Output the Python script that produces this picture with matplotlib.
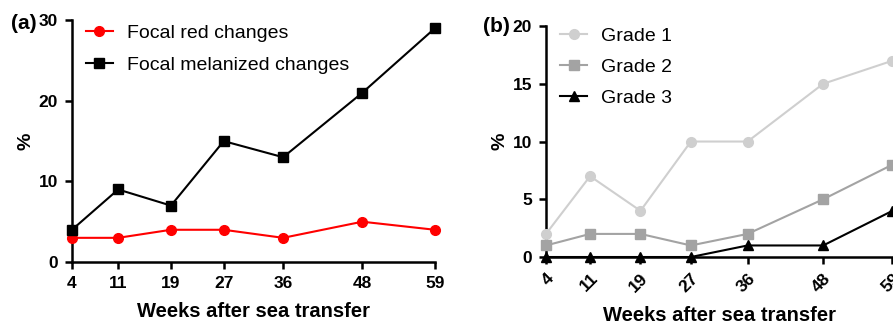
import matplotlib.pyplot as plt

plt.rcParams["font.family"] = ["Liberation Sans", "DejaVu Sans"]

weeks = [4, 11, 19, 27, 36, 48, 59]
red_changes = [3, 3, 4, 4, 3, 5, 4]
melanized_changes = [4, 9, 7, 15, 13, 21, 29]
grade1 = [2, 7, 4, 10, 10, 15, 17]
grade2 = [1, 2, 2, 1, 2, 5, 8]
grade3 = [0, 0, 0, 0, 1, 1, 4]


def style_axes(ax):
    for side in ("top", "right"):
        ax.spines[side].set_visible(False)
    for side in ("left", "bottom"):
        ax.spines[side].set_linewidth(1.8)
    ax.tick_params(width=1.8, length=5, direction="out", labelsize=12.5, pad=5)
    for lbl in ax.get_xticklabels() + ax.get_yticklabels():
        lbl.set_fontweight("bold")
    ax.set_xlim(4, 59)
    ax.set_xticks(weeks)
    ax.set_xlabel("Weeks after sea transfer", fontsize=14.5, fontweight="bold")
    ax.set_ylabel("%", fontsize=14, fontweight="bold")


fig = plt.figure(figsize=(8.93, 3.29), dpi=100)

ax1 = fig.add_axes([0.0806, 0.2036, 0.4064, 0.735])
ax1.plot(weeks, red_changes, color="#ff0000", marker="o", markersize=7,
         linewidth=1.5, label="Focal red changes", clip_on=False, zorder=3)
ax1.plot(weeks, melanized_changes, color="black", marker="s", markersize=7,
         linewidth=1.5, label="Focal melanized changes", clip_on=False, zorder=3)
ax1.set_ylim(0, 30)
ax1.set_yticks([0, 10, 20, 30])
style_axes(ax1)
ax1.xaxis.labelpad = 8
ax1.yaxis.labelpad = 3
ax1.legend(loc="upper left", bbox_to_anchor=(-0.01, 1.055), frameon=False,
           fontsize=14, handlelength=1.4, handletextpad=0.7, labelspacing=0.72)
fig.text(0.012, 0.93, "(a)", fontsize=15, fontweight="bold", va="center")

ax2 = fig.add_axes([0.6114, 0.2188, 0.388, 0.702])
ax2.plot(weeks, grade1, color="#cfcfcf", marker="o", markersize=7,
         linewidth=1.5, label="Grade 1", clip_on=False, zorder=3)
ax2.plot(weeks, grade2, color="#a3a3a3", marker="s", markersize=7,
         linewidth=1.5, label="Grade 2", clip_on=False, zorder=3)
ax2.plot(weeks, grade3, color="black", marker="^", markersize=7,
         linewidth=1.5, label="Grade 3", clip_on=False, zorder=4)
ax2.set_ylim(0, 20)
ax2.set_yticks([0, 5, 10, 15, 20])
style_axes(ax2)
plt.setp(ax2.get_xticklabels(), rotation=45, ha="right", rotation_mode="anchor")
ax2.xaxis.labelpad = 8
ax2.yaxis.labelpad = 3
ax2.legend(loc="upper left", bbox_to_anchor=(-0.01, 1.07), frameon=False,
           fontsize=14, handlelength=1.4, handletextpad=0.7, labelspacing=0.68)
fig.text(0.541, 0.92, "(b)", fontsize=15, fontweight="bold", va="center")

fig.savefig("out.png", dpi=100)
